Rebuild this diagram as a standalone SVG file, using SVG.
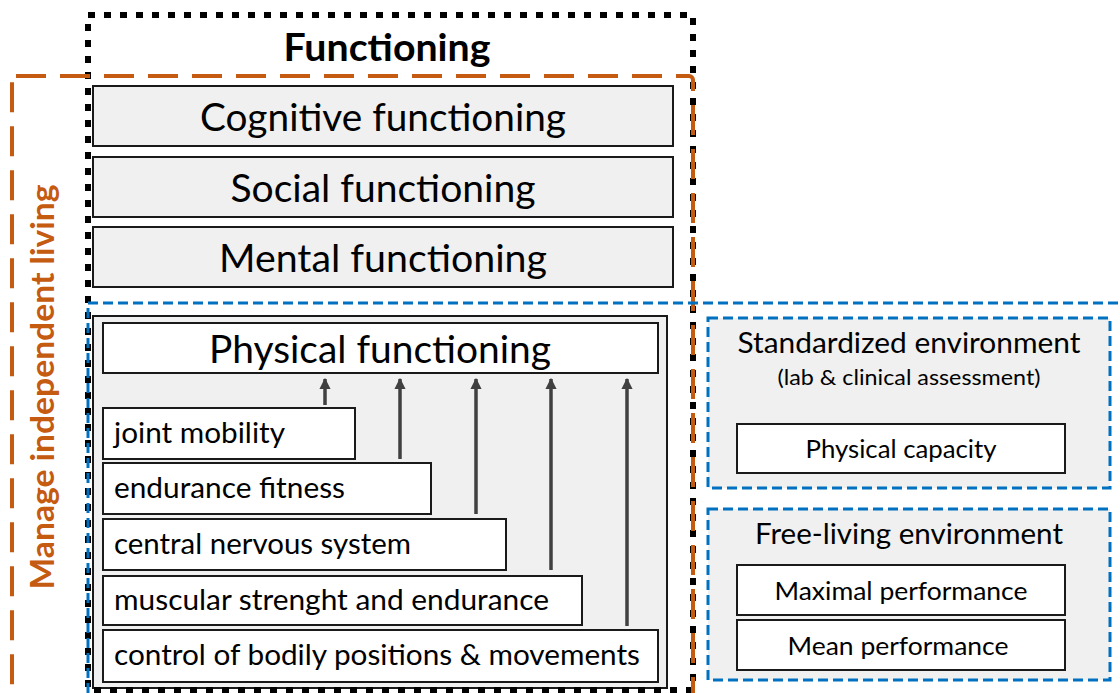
<svg xmlns="http://www.w3.org/2000/svg" width="1120" height="693" viewBox="0 0 1120 693">
<style>
text{font-family:Lato,"Liberation Sans",sans-serif;fill:#000}
.g{fill:#F0F0F0;stroke:#1a1a1a;stroke-width:2}
.w{fill:#fff;stroke:#1a1a1a;stroke-width:2}
.big{font-size:38.5px;text-anchor:middle}
.sm{font-size:28.5px}
.env{font-size:29.5px;text-anchor:middle}
.mid{font-size:25.5px;text-anchor:middle}
.blue{fill:none;stroke:#0070C0;stroke-width:3;stroke-dasharray:10 5}
.bluef{fill:#F0F0F0;stroke:#0070C0;stroke-width:3;stroke-dasharray:10 5}
.arr{stroke:#404040;stroke-width:3.5;fill:none;marker-end:url(#ah)}
</style>
<defs>
<marker id="ah" viewBox="0 0 10 10" refX="9" refY="5" markerWidth="3.2" markerHeight="3.2" orient="auto" markerUnits="strokeWidth">
<path d="M0,0 L10,5 L0,10 z" fill="#404040"/>
</marker>
</defs>
<rect width="1120" height="693" fill="#fff"/>

<g id="cognitive"><rect class="g" x="93" y="86" width="580" height="60"/><text class="big" x="383" y="131" textLength="366" lengthAdjust="spacingAndGlyphs">Cognitive functioning</text></g>
<g id="social"><rect class="g" x="93" y="157" width="580" height="60"/><text class="big" x="383" y="202" textLength="305" lengthAdjust="spacingAndGlyphs">Social functioning</text></g>
<g id="mental"><rect class="g" x="93" y="227" width="580" height="60"/><text class="big" x="383" y="272" textLength="328" lengthAdjust="spacingAndGlyphs">Mental functioning</text></g>

<g id="physical-group">
<rect class="g" x="93" y="316" width="574" height="372"/>
</g>
<g id="physical"><rect class="w" x="103" y="323" width="555" height="50"/><text class="big" x="380" y="363" textLength="342" lengthAdjust="spacingAndGlyphs">Physical functioning</text></g>
<g id="joint"><rect class="w" x="103" y="408" width="252" height="51"/><text class="sm" x="114" y="443" textLength="171" lengthAdjust="spacingAndGlyphs">joint mobility</text></g>
<g id="endurance"><rect class="w" x="103" y="463" width="328" height="51"/><text class="sm" x="114" y="498" textLength="231" lengthAdjust="spacingAndGlyphs">endurance fitness</text></g>
<g id="cns"><rect class="w" x="103" y="519" width="403" height="51"/><text class="sm" x="114" y="554" textLength="297" lengthAdjust="spacingAndGlyphs">central nervous system</text></g>
<g id="muscular"><rect class="w" x="103" y="576" width="479" height="49"/><text class="sm" x="114" y="610" textLength="435" lengthAdjust="spacingAndGlyphs">muscular strenght and endurance</text></g>
<g id="control"><rect class="w" x="103" y="630" width="555" height="52"/><text class="sm" x="114" y="665" textLength="526" lengthAdjust="spacingAndGlyphs">control of bodily positions &amp; movements</text></g>

<g id="connectors">
<line class="arr" x1="325" y1="405" x2="325" y2="379"/>
<line class="arr" x1="400" y1="459" x2="400" y2="379"/>
<line class="arr" x1="476" y1="514" x2="476" y2="379"/>
<line class="arr" x1="551" y1="570" x2="551" y2="379"/>
<line class="arr" x1="627" y1="626" x2="627" y2="379"/>
</g>

<g id="standardized">
<rect class="bluef" x="708" y="318" width="402" height="170"/>
<text class="env" x="909" y="353" textLength="343" lengthAdjust="spacingAndGlyphs">Standardized environment</text>
<text class="mid" x="909" y="385" style="font-size:22px" textLength="263" lengthAdjust="spacingAndGlyphs">(lab &amp; clinical assessment)</text>
</g>
<g id="capacity"><rect class="w" x="737" y="424" width="328" height="49"/><text class="mid" x="901" y="458" textLength="191" lengthAdjust="spacingAndGlyphs">Physical capacity</text></g>

<g id="freeliving">
<rect class="bluef" x="708" y="509" width="402" height="171"/>
<text class="env" x="909" y="544" textLength="308" lengthAdjust="spacingAndGlyphs">Free-living environment</text>
</g>
<g id="maximal"><rect class="w" x="737" y="565" width="328" height="50"/><text class="mid" x="901" y="600" textLength="253" lengthAdjust="spacingAndGlyphs">Maximal performance</text></g>
<g id="mean"><rect class="w" x="737" y="620" width="328" height="50"/><text class="mid" x="898" y="655" textLength="221" lengthAdjust="spacingAndGlyphs">Mean performance</text></g>

<g id="functioning">
<rect x="88" y="15" width="605" height="675" fill="none" stroke="#000" stroke-width="6" stroke-dasharray="7 9"/>
<text x="387" y="61" style="font-size:38px;font-weight:bold;text-anchor:middle" textLength="207" lengthAdjust="spacingAndGlyphs">Functioning</text>
</g>

<g id="manage">
<rect x="12" y="76" width="681" height="640" rx="4" fill="none" stroke="#C55A11" stroke-width="4" stroke-dasharray="30 14"/>
<text transform="translate(54,387) rotate(-90)" style="font-size:32px;font-weight:bold;text-anchor:middle;fill:#C55A11" textLength="405" lengthAdjust="spacingAndGlyphs">Manage independent living</text>
</g>

<g id="physical-frame">
<rect class="blue" x="88" y="303" width="1040" height="400"/>
</g>
</svg>
